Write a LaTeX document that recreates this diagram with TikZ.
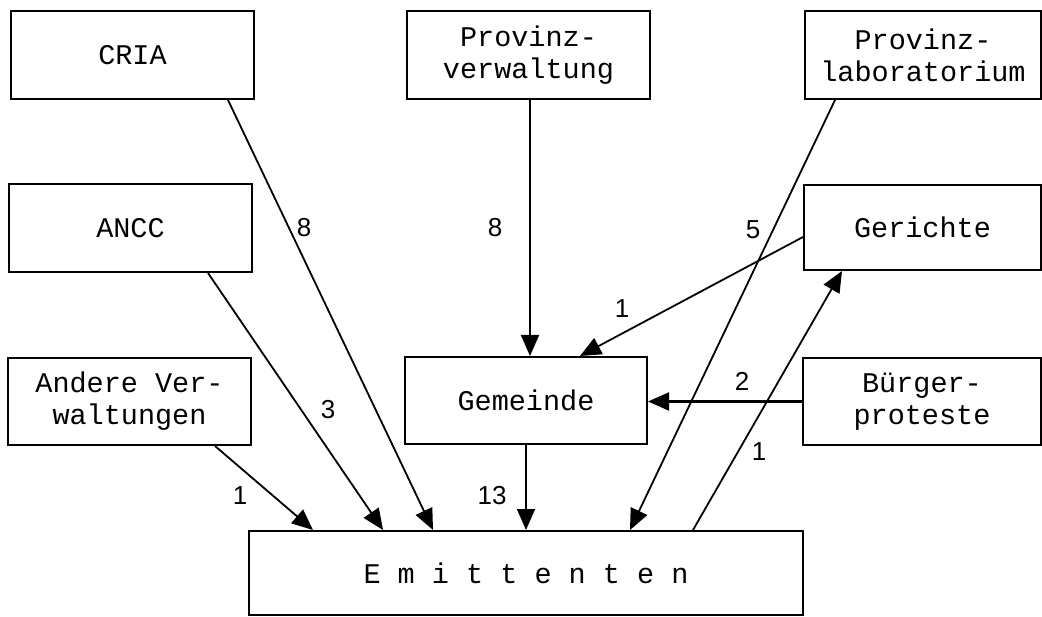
\documentclass[tikz,border=0pt]{standalone}
\usepackage{fontspec}
\setmonofont{Liberation Mono}
\newfontfamily\numfont{Liberation Sans}
\usetikzlibrary{arrows.meta}
\begin{document}
\begin{tikzpicture}[x=1pt,y=-1pt,
  box/.style={draw, line width=2pt, inner sep=0pt, align=center,
    font=\ttfamily\fontsize{28.5}{32}\selectfont},
  arr/.style={line width=1.8pt, -{Triangle[length=21pt,width=18pt]}},
  num/.style={font=\numfont\fontsize{26}{30}\selectfont, inner sep=0pt}]
\useasboundingbox (0,0) rectangle (1042,617);
\fill[white] (0,0) rectangle (1042,617);

% boxes
\node[box, minimum width=243pt, minimum height=88pt] (cria) at (132.5,55) {CRIA};
\node[box, minimum width=243pt, minimum height=88pt] (prov) at (528.5,55) {Provinz-\\verwaltung};
\node[box, minimum width=236pt, minimum height=88pt] (lab) at (923,55) {Provinz-\\laboratorium};
\node[box, minimum width=243pt, minimum height=88pt] (ancc) at (130.5,228) {ANCC};
\node[box, minimum width=237pt, minimum height=85pt] (ger) at (922.5,227.5) {Gerichte};
\node[box, minimum width=243pt, minimum height=87pt] (andere) at (129.5,401.5) {Andere Ver-\\waltungen};
\node[box, minimum width=242pt, minimum height=87pt] (gem) at (526,400.5) {Gemeinde};
\node[box, minimum width=238pt, minimum height=87pt] (burg) at (922,401.5) {B\"urger-\\proteste};
\node[box, minimum width=554pt, minimum height=84pt] (emit) at (526,573) {E m i t t e n t e n};

% connectors
\draw[arr] ([xshift=95.5pt]cria.south) -- ([xshift=-93pt]emit.north);
\draw[arr] ([xshift=1.5pt]prov.south) -- ([xshift=4pt]gem.north);
\draw[arr] ([xshift=-88pt]lab.south) -- ([xshift=104pt]emit.north);
\draw[arr] ([yshift=-9.5pt]ger.west) -- ([xshift=54pt]gem.north);
\draw[arr] ([xshift=77.5pt]ancc.south) -- ([xshift=-143pt]emit.north);
\draw[arr] ([xshift=85.5pt]andere.south) -- ([xshift=-213pt]emit.north);
\draw[arr] (gem.south) -- (emit.north);
\draw[arr] ([xshift=167pt]emit.north) -- ([xshift=-80.5pt]ger.south);
\draw[arr, line width=2.2pt] (burg.west) -- (burg.west -| gem.east);

% labels
\node[num] (l1) at (304,228) {8};
\node[num] (l2) at (495,228) {8};
\node[num] (l3) at (753,230) {5};
\node[num] (l4) at (622,309) {1};
\node[num] (l5) at (328,410) {3};
\node[num] (l6) at (240,496) {1};
\node[num] (l7) at (492,496) {13};
\node[num] (l8) at (759,452) {1};
\node[num] (l9) at (742,381) {2};
\end{tikzpicture}
\end{document}
